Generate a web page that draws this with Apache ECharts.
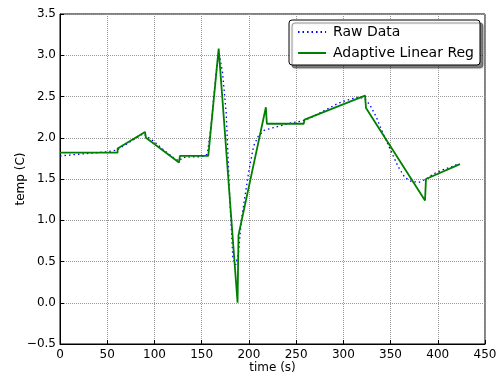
<!DOCTYPE html>
<html>
	<head>
		<meta charset="utf-8">
		<title>temp</title>
	</head>
	<body style="margin:0">
		<div id="main" style="width: 497px;height:373px;"></div>
	</body>
	<script src="https://cdn.jsdelivr.net/npm/echarts@6/dist/echarts.min.js"></script>
	<script type="text/javascript">
		// raw measurements (time s, temp C)
		var rawX = [0, 10, 20, 30, 40, 50, 60, 70, 80, 88, 94, 100, 110, 120, 126, 130, 140, 150, 156, 160, 165, 168, 172, 176, 180, 183, 186, 189, 192, 196, 200, 205, 210, 216, 225, 235, 245, 255, 265, 275, 285, 295, 305, 315, 322, 328, 335, 342, 350, 358, 365, 372, 380, 388, 395, 405, 415, 423];
		var rawY = [1.78, 1.79, 1.80, 1.81, 1.82, 1.83, 1.85, 1.92, 1.99, 2.05, 2.00, 1.95, 1.85, 1.76, 1.72, 1.76, 1.77, 1.77, 1.80, 2.15, 2.75, 3.05, 2.80, 2.30, 1.20, 0.55, 0.46, 0.60, 1.00, 1.30, 1.60, 1.90, 2.02, 2.09, 2.12, 2.15, 2.18, 2.20, 2.24, 2.30, 2.36, 2.42, 2.46, 2.49, 2.48, 2.40, 2.25, 2.05, 1.85, 1.65, 1.52, 1.47, 1.46, 1.50, 1.56, 1.61, 1.65, 1.69];

		// adaptive linear regression segments
		var regX = [0, 61, 61, 90, 91, 126, 127, 157, 168, 188, 189, 218, 219, 258, 259, 323, 324, 386.5, 387.5, 423.5];
		var regY = [1.82, 1.82, 1.87, 2.07, 2.0, 1.70, 1.78, 1.78, 3.08, 0.0, 0.82, 2.37, 2.17, 2.17, 2.22, 2.51, 2.36, 1.24, 1.50, 1.68];

		function pairs(xs, ys) {
			return xs.map(function (x, i) { return [x, ys[i]]; });
		}

		var font = 'DejaVu Sans';
		var myChart = echarts.init(document.getElementById('main'));
		var option = {
			animation: false,
			textStyle: { fontFamily: font },
			grid: {
				left: 60, right: 12, top: 14, bottom: 29,
				outerBoundsMode: 'none', containLabel: false,
				show: true, borderColor: '#000', borderWidth: 1
			},
			legend: {
				orient: 'vertical',
				right: 17, top: 20,
				itemWidth: 28, itemHeight: 10, itemGap: 7,
				padding: [5, 6, 5, 8],
				backgroundColor: '#fff',
				borderColor: '#000', borderWidth: 1, borderRadius: 3,
				shadowColor: 'rgba(0,0,0,0.5)', shadowOffsetX: 3, shadowOffsetY: 3, shadowBlur: 1,
				itemStyle: { opacity: 0 },
				textStyle: { fontFamily: font, fontSize: 14, color: '#000', padding: [0, 0, 0, 2] },
				data: ['Raw Data', 'Adaptive Linear Reg']
			},
			xAxis: {
				type: 'value', min: 0, max: 450, interval: 50,
				name: 'time (s)', nameLocation: 'middle', nameGap: 18, nameMoveOverlap: false,
				nameTextStyle: { fontFamily: font, fontSize: 12, color: '#000', verticalAlign: 'top' },
				axisLine: { onZero: false, lineStyle: { color: '#000' } },
				axisTick: { inside: true, length: 4, lineStyle: { color: '#000' } },
				axisLabel: { color: '#000', fontSize: 12, margin: 5 },
				splitLine: { lineStyle: { color: '#999', type: 'dotted' } }
			},
			yAxis: {
				type: 'value', min: -0.5, max: 3.5, interval: 0.5,
				name: 'temp (C)', nameLocation: 'middle', nameGap: 33, nameRotate: 90, nameMoveOverlap: false,
				nameTextStyle: { fontFamily: font, fontSize: 12, color: '#000' },
				axisLine: { show: true, onZero: false, lineStyle: { color: '#000' } },
				axisTick: { show: true, inside: true, length: 4, lineStyle: { color: '#000' } },
				axisLabel: {
					color: '#000', fontSize: 12, margin: 4,
					formatter: function (v) { return (v < 0 ? '\u2212' : '') + Math.abs(v).toFixed(1); }
				},
				splitLine: { lineStyle: { color: '#999', type: 'dotted' } }
			},
			series: [{
				name: 'Raw Data',
				type: 'line',
				symbol: 'none',
				data: pairs(rawX, rawY),
				itemStyle: { color: '#0000ff' },
				lineStyle: { color: '#0000ff', width: 1.3, type: [1.5, 3] }
			}, {
				name: 'Adaptive Linear Reg',
				type: 'line',
				symbol: 'none',
				data: pairs(regX, regY),
				itemStyle: { color: '#008000' },
				lineStyle: { color: '#008000', width: 1.8 }
			}]
		};
		myChart.setOption(option);
	</script>
</html>
